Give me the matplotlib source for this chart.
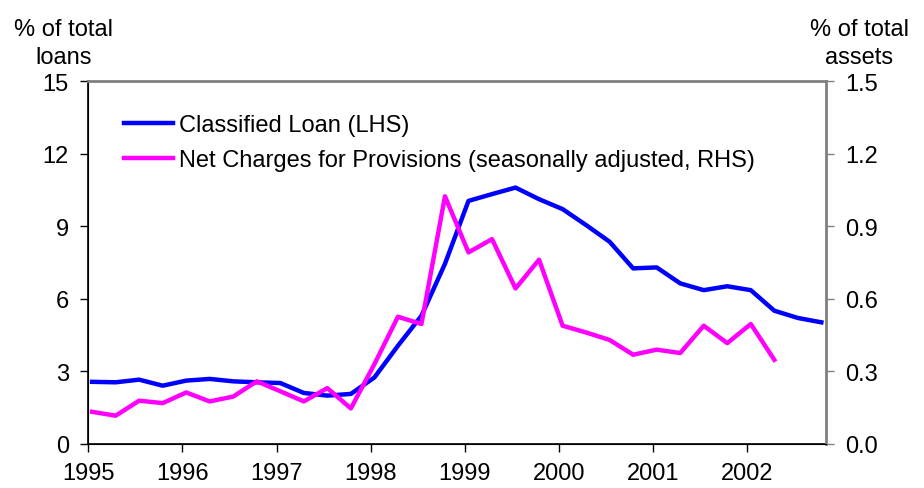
import numpy as np
import matplotlib
matplotlib.use("Agg")
import matplotlib.pyplot as plt

plt.rcParams['font.family'] = ['Liberation Sans', 'DejaVu Sans']

# Quarterly data, 1995 Q1 onwards
classified_loan = [2.57, 2.55, 2.66, 2.41, 2.62, 2.69, 2.59, 2.55,
                   2.52, 2.11, 2.00, 2.07, 2.75, 4.06, 5.30, 7.45,
                   10.05, 10.33, 10.60, 10.12, 9.71, 9.05, 8.36, 7.26,
                   7.30, 6.64, 6.36, 6.52, 6.36, 5.51, 5.21, 5.03]
net_charges = [0.133, 0.117, 0.179, 0.169, 0.213, 0.176, 0.196, 0.259,
               0.218, 0.176, 0.231, 0.147, 0.33, 0.526, 0.496, 1.024,
               0.792, 0.847, 0.643, 0.762, 0.489, 0.461, 0.430, 0.369,
               0.390, 0.376, 0.489, 0.417, 0.496, 0.348]
year_ticks = list(range(1995, 2003))
left_ticks = [0, 3, 6, 9, 12, 15]
right_ticks = [0.0, 0.3, 0.6, 0.9, 1.2, 1.5]

x_loan = 1995.04 + 0.25 * np.arange(len(classified_loan))
x_charge = 1995.04 + 0.25 * np.arange(len(net_charges))

fig = plt.figure(figsize=(9.24, 4.89), dpi=100)
ax = fig.add_axes([0.0956, 0.09, 0.7984, 0.742])
ax2 = ax.twinx()

l1, = ax.plot(x_loan, classified_loan, color='#0000ff', linewidth=3.2,
              label='Classified Loan (LHS)')
l2, = ax2.plot(x_charge, net_charges, color='#ff00ff', linewidth=3.2,
               label='Net Charges for Provisions (seasonally adjusted, RHS)')

ax.set_xlim(1995, 2002.84)
ax.set_ylim(0, 15)
ax2.set_ylim(0, 1.5)
ax.set_xticks(year_ticks)
ax.set_yticks(left_ticks)
ax2.set_yticks(right_ticks)
ax2.set_yticklabels([f"{v:.1f}" for v in right_ticks])

ax.tick_params(axis='both', direction='out', length=6, width=1, labelsize=17)
ax.tick_params(axis='y', pad=8)
ax.tick_params(axis='x', pad=7)
ax2.tick_params(axis='y', direction='out', length=6, width=1, labelsize=17,
                pad=8, color='#808080')

for s in ['top', 'right']:
    ax.spines[s].set_color('#808080')
    ax2.spines[s].set_color('#808080')
ax2.spines['right'].set_linewidth(2)
ax2.spines['top'].set_linewidth(2)
ax.spines['left'].set_linewidth(1.2)
ax.spines['bottom'].set_linewidth(1.2)

fig.text(0.069, 0.962, '% of total\nloans', ha='center', va='top',
         fontsize=17, linespacing=1.35)
fig.text(0.93, 0.962, '% of total\nassets', ha='center', va='top',
         fontsize=17, linespacing=1.35)

ax2.legend(handles=[l1, l2], loc='upper left', bbox_to_anchor=(0.035, 0.935),
           frameon=False, fontsize=17, handlelength=2.1, handletextpad=0.25,
           labelspacing=0.55, borderaxespad=0)

fig.savefig('out.png', dpi=100)
